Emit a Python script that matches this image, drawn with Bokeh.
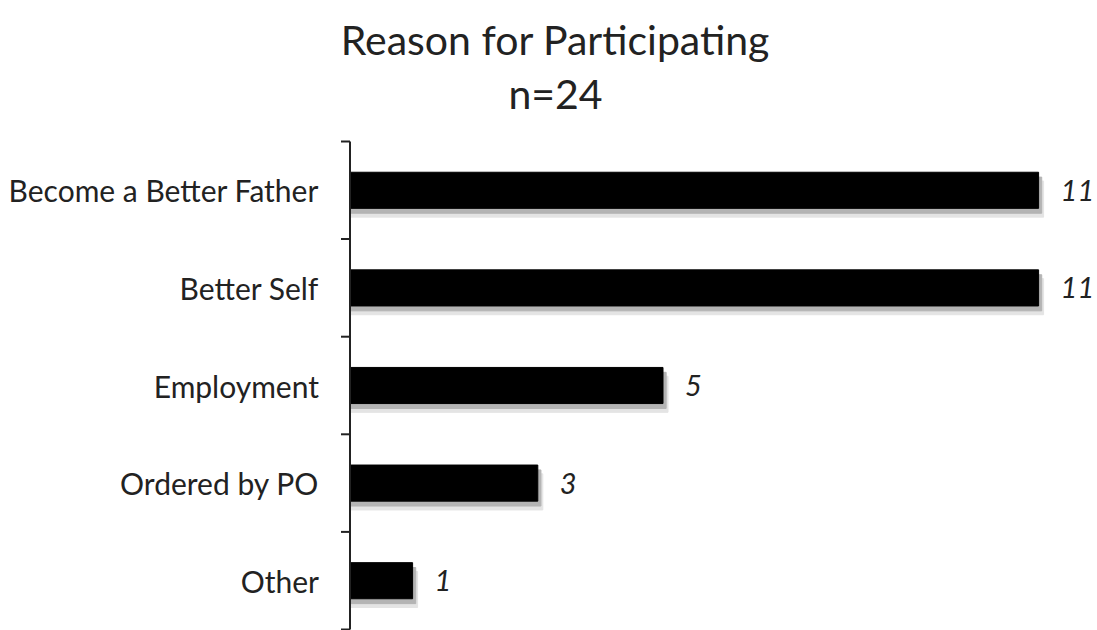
from bokeh.plotting import figure
from bokeh.models import Range1d, ColumnDataSource
from bokeh.core.properties import value
from bokeh.embed import file_html
from bokeh.resources import INLINE

categories = ["Become a Better Father", "Better Self", "Employment", "Ordered by PO", "Other"]
counts = [11, 11, 5, 3, 1]
title_lines = ["Reason for Participating", "n=24"]

n = len(categories)
ypos = [n - 1 - i for i in range(n)]
src = ColumnDataSource(dict(
    y=ypos,
    v=counts,
    cat=categories,
    lab=[str(c) for c in counts],
    ys1=[y - 0.05 for y in ypos],
    ys2=[y - 0.09 for y in ypos],
    vs1=[c + 0.05 for c in counts],
    vs2=[c + 0.08 for c in counts],
))

# scales: 97.6 px per category band (top boundary 141 px from the top edge),
# 62.6 px per count, zero at 349.5 px from the left edge
band = 97.6
xpx = 62.6
y_top = n - 0.5 + 141 / band
y_bot = -0.5 - 1 / band
x0 = -349.5 / xpx
x1 = x0 + 1097 / xpx

p = figure(width=1097, height=630, output_backend="svg", toolbar_location=None,
           x_range=Range1d(x0, x1), y_range=Range1d(y_bot, y_top),
           min_border_left=0, min_border_right=0, min_border_top=0, min_border_bottom=0)
p.outline_line_color = None
p.xgrid.visible = False
p.ygrid.visible = False
p.xaxis.visible = False
p.yaxis.visible = False

bh = 0.37
p.hbar(y="ys2", left=0, right="vs2", height=bh, source=src, color="#e4e4e4")
p.hbar(y="ys1", left=0, right="vs1", height=bh, source=src, color="#b4b4b4")
p.hbar(y="y", left=0, right="v", height=bh, source=src, color="black")

# category axis: line and boundary ticks
bounds = [i - 0.5 for i in range(n + 1)]
p.segment(x0=[0], y0=[-0.5], x1=[0], y1=[n - 0.5], line_color="#222222", line_width=2)
p.segment(x0=[-9 / xpx] * len(bounds), y0=bounds, x1=[0] * len(bounds), y1=bounds,
          line_color="#222222", line_width=2)

# category labels
p.text(x=0, y="y", text="cat", source=src, x_offset=-31, text_baseline="middle",
       text_align="right", text_font=value("Lato"), text_font_size="30px",
       text_color="#222222")

# value labels
p.text(x="v", y="y", text="lab", source=src, x_offset=22, text_baseline="middle",
       text_align="left", text_font=value("Lato"), text_font_style="italic",
       text_font_size="29px", text_color="#222222")

# title lines
title_x = (555 - 349.5) / xpx
p.text(x=[title_x, title_x],
       y=[n - 0.5 + (141 - 39) / band, n - 0.5 + (141 - 93) / band],
       text=title_lines, text_align="center", text_baseline="alphabetic",
       text_font=value("Lato"), text_font_size="41px", text_color="#222222")

open("out.html", "w").write(file_html(p, INLINE))
